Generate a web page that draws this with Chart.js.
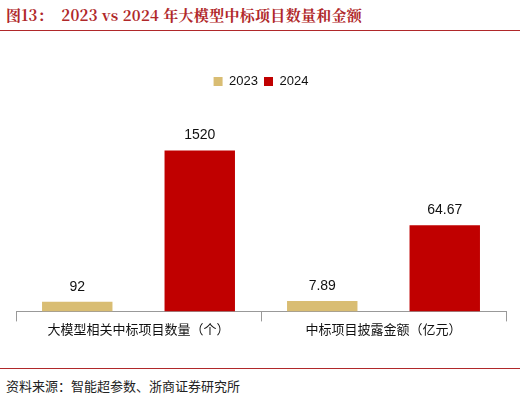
<!DOCTYPE html><html><head><meta charset="utf-8">
<script src="https://cdn.jsdelivr.net/npm/chart.js@4/dist/chart.umd.min.js"></script>
<style>
body{margin:0;width:520px;height:402px;background:#fff;position:relative;font-family:"Noto Sans CJK SC","Noto Sans",sans-serif;overflow:hidden}
#t{position:absolute;left:6px;top:4px;font-size:15px;color:#b0282a;font-family:"Noto Serif CJK SC","Noto Sans CJK SC",serif;font-weight:bold;letter-spacing:0.3px}
#l1{position:absolute;left:0;top:30px;width:520px;height:1px;background:#b0282a}
#l2{position:absolute;left:0;top:368px;width:520px;height:1px;background:#b0282a}
#s{position:absolute;left:6px;top:376px;font-size:13px;color:#222}
#c{position:absolute;left:0;top:69px;width:520px;height:268px}
</style></head><body>
<div id="t">图13：&nbsp; 2023 vs 2024 年大模型中标项目数量和金额</div>
<div id="l1"></div>
<div id="c"><canvas id="cv"></canvas></div>
<div id="l2"></div>
<div id="s">资料来源：智能超参数、浙商证券研究所</div>
<script>
const categories=["大模型相关中标项目数量（个）","中标项目披露金额（亿元）"];
const years=["2023","2024"];
const values2023=[92,7.89];
const values2024=[1520,64.67];
const colors=["#d9bd73","#c00000"];
const lbl={id:'lbl',afterDatasetsDraw(ch){const c=ch.ctx;c.save();c.font='14px "Liberation Sans",Arial';c.fillStyle='#111';c.textAlign='center';c.textBaseline='bottom';
ch.data.datasets.forEach((d,i)=>{ch.getDatasetMeta(i).data.forEach((b,j)=>{const v=d.data[j];if(v==null)return;c.fillText(String(v),b.x,b.y-8);});});c.restore();}};
const ds=[];
years.forEach((y,k)=>{const v=k?values2024:values2023;
ds.push({label:y,data:[v[0],null],backgroundColor:colors[k],yAxisID:'y1',stack:'s'+y});
ds.push({label:y+'b',data:[null,v[1]],backgroundColor:colors[k],yAxisID:'y2',stack:'s'+y});});
new Chart(document.getElementById('cv'),{type:'bar',data:{labels:categories,datasets:ds},plugins:[lbl],
options:{responsive:true,maintainAspectRatio:false,animation:false,
layout:{padding:{left:16,right:14,top:0,bottom:0}},
datasets:{bar:{categoryPercentage:1,barPercentage:0.575}},
plugins:{legend:{labels:{filter:i=>!i.text.endsWith('b'),boxWidth:9,boxHeight:9,font:{size:13,family:'"Liberation Sans",Arial'},color:'#111',padding:6}},tooltip:{enabled:false}},
scales:{x:{stacked:true,offset:true,grid:{display:true,drawOnChartArea:false,tickLength:10,color:'#999'},border:{color:'#999'},ticks:{font:{size:13,family:'"Noto Sans CJK SC"'},color:'#111',padding:0}},
y1:{display:false,stacked:true,min:0,max:2017},y2:{display:false,stacked:true,min:0,max:160}}}});
</script></body></html>
